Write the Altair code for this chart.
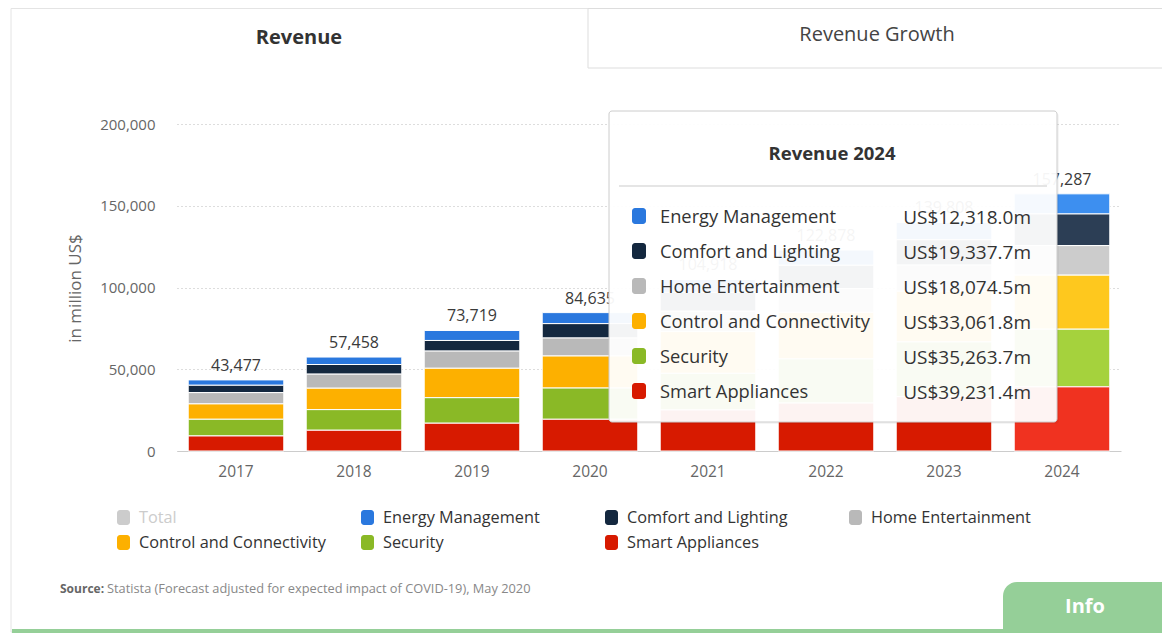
import altair as alt
import pandas as pd

F = "Open Sans"

# ---------------- data ----------------
years = ["2017", "2018", "2019", "2020", "2021", "2022", "2023", "2024"]
series = ["Energy Management", "Comfort and Lighting", "Home Entertainment",
          "Control and Connectivity", "Security", "Smart Appliances"]
energy_mgmt = [3277, 4558, 6119, 6735, 7918, 9278, 10608, 12318.0]
comfort_lighting = [4500, 5900, 6500, 8800, 11500, 14300, 15500, 19337.7]
home_ent = [6900, 8600, 10500, 11000, 12500, 14500, 16000, 18074.5]
control_conn = [9400, 13100, 18000, 19600, 25500, 28500, 31000, 33061.8]
security = [10200, 12600, 15600, 19100, 22400, 27000, 33500, 35263.7]
smart_appl = [9200, 12700, 17000, 19400, 25100, 29300, 33200, 39231.4]
totals = [43477, 57458, 73719, 84635, 104918, 122878, 139808, 157287]
y_ticks = [0, 50000, 100000, 150000, 200000]
legend_items = ["Total"] + series

colors = ["#2a78de", "#14283f", "#b9b9b9", "#fdb000", "#8ab926", "#d71a00"]
colors_hover = ["#3d8ff0", "#2c3e55", "#cccccc", "#fec81e", "#a5d23d", "#f03220"]
total_color = "#cccccc"

values_by_series = [energy_mgmt, comfort_lighting, home_ent, control_conn, security, smart_appl]

rows = []
for i, name in enumerate(series):
    for j, yr in enumerate(years):
        rows.append({
            "year": yr,
            "series": name,
            "value": values_by_series[i][j],
            "stack": len(series) - 1 - i,
            "col": colors_hover[i] if yr == years[-1] else colors[i],
        })
df = pd.DataFrame(rows)
tot_df = pd.DataFrame({"year": years, "total": totals})

one = pd.DataFrame({"k": [0]})


def rect(x, x2, y, y2, **kw):
    return alt.Chart(one).mark_rect(**kw).encode(
        x=alt.value(x), x2=alt.value(x2), y=alt.value(y), y2=alt.value(y2))


def text(s, x, y, **kw):
    kw.setdefault("font", F)
    return alt.Chart(one).mark_text(text=s, **kw).encode(x=alt.value(x), y=alt.value(y))


# plot origin is at screen (177,124)
OX, OY = 177, 124

layers = []

# frame and tabs
layers.append(rect(11 - OX, 1200 - OX, 8.5 - OY, 632 - OY, fillOpacity=0, stroke="#e4e4e4", strokeWidth=1))
layers.append(rect(588 - OX, 1200 - OX, 8.5 - OY, 68 - OY, fillOpacity=0, stroke="#dddddd", strokeWidth=1))
layers.append(text("Revenue", 299 - OX, 38 - OY, fontSize=20, fontWeight="bold", color="#333333",
                   align="center", baseline="middle"))
layers.append(text("Revenue Growth", 877 - OX, 35 - OY, fontSize=20, color="#444444",
                   align="center", baseline="middle"))

# bars
x_enc = alt.X("year:N", sort=years,
              scale=alt.Scale(paddingInner=0.19, paddingOuter=0.095),
              axis=alt.Axis(title=None, labelAngle=0, labelFontSize=15.5, labelColor="#666666",
                            labelFont=F, ticks=False, domainColor="#cccccc", labelPadding=13,
                            grid=False))
bars = alt.Chart(df).mark_bar(stroke="white", strokeWidth=1).encode(
    x=x_enc,
    y=alt.Y("value:Q", stack="zero",
            scale=alt.Scale(domain=[0, 200000], nice=False),
            axis=alt.Axis(values=y_ticks, format=",.0f", title="in million US$",
                          grid=True, gridDash=[1, 3], gridColor="#bbbbbb",
                          domain=False, ticks=False, labelPadding=22,
                          labelFontSize=15, labelColor="#666666", labelFont=F,
                          titleFont=F, titleFontSize=17, titleFontWeight="normal",
                          titleColor="#666666", titleX=-102, titleY=164,
                          titleAngle=270, titleAlign="center", titleBaseline="middle")),
    color=alt.Color("col:N", scale=None),
    order=alt.Order("stack:Q", sort="ascending"),
)
layers.append(bars)

labels = alt.Chart(tot_df).mark_text(baseline="bottom", dy=-6, fontSize=16, color="#3a3a3a",
                                     font=F).encode(
    x=alt.X("year:N", sort=years),
    y=alt.Y("total:Q"),
    text=alt.Text("total:Q", format=",.0f"),
)
layers.append(labels)

# tooltip overlay for 2024
layers.append(rect(611 - OX, 1059 - OX, 113 - OY, 424 - OY, fill="#000000", fillOpacity=0.04,
                   cornerRadius=3))
layers.append(rect(609 - OX, 1057 - OX, 111 - OY, 422 - OY, fill="#ffffff", fillOpacity=0.95,
                   stroke="#cccccc", strokeWidth=1, cornerRadius=3))
layers.append(text(f"Revenue {years[-1]}", 832 - OX, 154 - OY, fontSize=18.5, fontWeight="bold",
                   color="#333333", align="center", baseline="middle"))
layers.append(rect(619 - OX, 1047 - OX, 185.5 - OY, 186.5 - OY, fill="#cccccc"))
for i, name in enumerate(series):
    cy = 218 + i * 35
    v = values_by_series[i][-1]
    layers.append(rect(632 - OX, 646 - OX, cy - 10 - OY, cy + 6 - OY, fill=colors[i], cornerRadius=3))
    layers.append(text(name, 660 - OX, cy - OY, fontSize=18.3, color="#333333", align="left",
                       baseline="middle"))
    layers.append(text(f"US${v:,.1f}m", 1031 - OX, cy - OY, fontSize=19, color="#333333",
                       align="right", baseline="middle"))

# legend
for k, name in enumerate(legend_items):
    col, row = k % 4, k // 4
    sx = 117 + col * 244
    cy = 518 + row * 25
    c = total_color if name == "Total" else colors[k - 1]
    tc = total_color if name == "Total" else "#333333"
    layers.append(rect(sx - OX, sx + 13 - OX, cy - 8 - OY, cy + 7 - OY, fill=c, cornerRadius=3))
    layers.append(text(name, sx + 22 - OX, cy - OY, fontSize=16.3, color=tc, align="left",
                       baseline="middle"))

# source
layers.append(text("Source:", 60 - OX, 589 - OY, fontSize=12, fontWeight="bold", color="#666666",
                   align="left", baseline="middle"))
layers.append(text("Statista (Forecast adjusted for expected impact of COVID-19), May 2020",
                   107 - OX, 589 - OY, fontSize=12.8, color="#888888", align="left",
                   baseline="middle"))

# bottom bar and info button
layers.append(rect(12 - OX, 1200 - OX, 629 - OY, 633 - OY, fill="#95cf98"))
layers.append(rect(1003 - OX, 1200 - OX, 582 - OY, 640 - OY, fill="#95cf98", cornerRadiusTopLeft=14))
layers.append(text("Info", 1085 - OX, 607 - OY, fontSize=20, fontWeight="bold", color="#ffffff",
                   align="center", baseline="middle"))

chart = alt.layer(*layers).properties(
    width=944, height=327,
    autosize=alt.AutoSizeParams(type="none"),
    padding={"left": 169, "top": 116, "right": 41, "bottom": 182},
).configure(font=F).configure_view(stroke=None)

chart.save("out.html", embed_options={"renderer": "svg", "actions": False})
